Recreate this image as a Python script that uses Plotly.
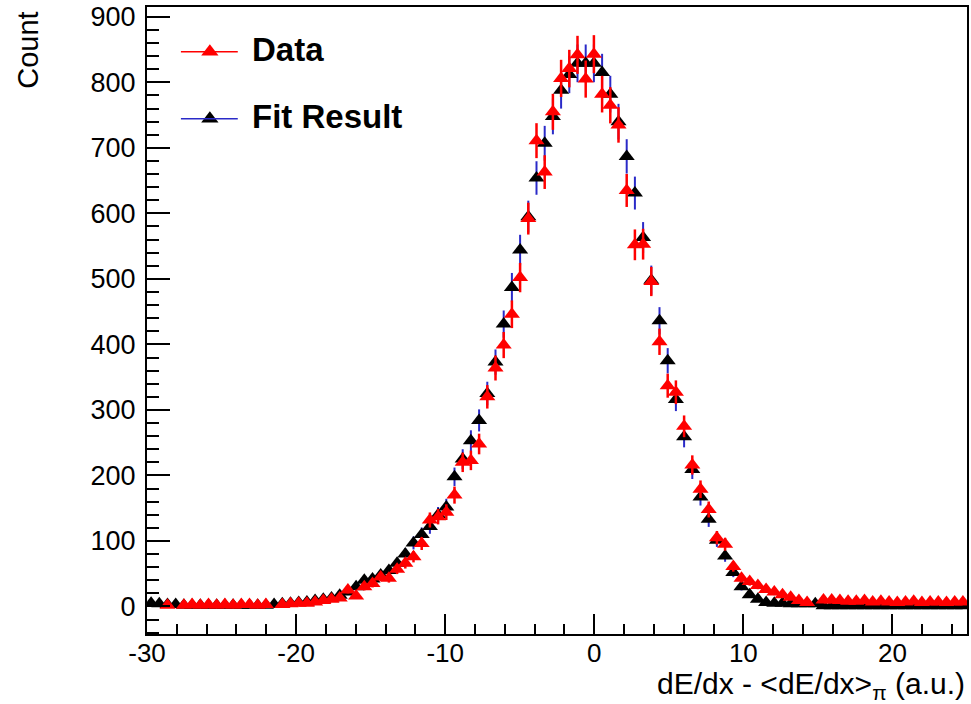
import numpy as np
import plotly.graph_objects as go

# Histogram binning: 100 equal bins over [-30, 25] a.u.
N_BINS = 100
X_LO, X_HI = -30.0, 25.0
bin_width = (X_HI - X_LO) / N_BINS
bin_centers = X_LO + bin_width * (np.arange(N_BINS) + 0.5)

# Measured counts per bin (None = empty bin, not drawn)
data_counts = [
    None, None, 2, None, 2, 3, 2, 3, 2, 3,
    2, 3, 3, 2, 3, None, 3, 4, 5, 5,
    7, 9, 11, 13, 25, 16, 30, 35, 45, 43,
    57, 66, 76, 96, 132, 137, 144, 170, 220, 223,
    248, 320, 364, 399, 446, 502, 592, 711, 663, 755,
    806, 821, 842, 805, 843, 782, 765, 735, 635, 552,
    553, 496, 404, 337, 327, 275, 216, 179, 148, 105,
    95, 61, 43, 38, 32, 26, 22, 18, 14, 9,
    6, None, 10, 10, 9, 8, 8, 9, 7, 8,
    7, 6, 7, 8, 6, 7, 7, 6, 7, 7,
]

# Fitted template counts per bin
fit_counts = [
    5, 4, 3, 3, 2, 2, 2, 2, 2, 2,
    2, 2, 2, 2, 2, 3, 4, 5, 6, 7,
    9, 11, 13, 17, 22, 30, 40, 42, 48, 55,
    66, 80, 97, 110, 122, 140, 152, 198, 225, 253,
    284, 325, 373, 431, 487, 544, 595, 654, 707, 748,
    788, 812, 829, 829, 829, 815, 782, 740, 687, 631,
    563, 498, 436, 375, 316, 259, 209, 167, 133, 101,
    77, 52, 30, 18, 11, 6, 5, 5, 4, 4,
    4, 4, 1, 1, 1, 1, 1, 1, 1, 1,
    1, 1, 1, 1, 1, 1, 1, 1, 1, 1,
]

# Poisson uncertainties
data_err = [np.sqrt(v) if v else None for v in data_counts]
fit_err = [np.sqrt(v) if v else None for v in fit_counts]

X_TICKS = [-30, -20, -10, 0, 10, 20]
X_TICK_LABELS = ["-30", "-20", "-10", "0", "10", "20"]
Y_TICKS = [0, 100, 200, 300, 400, 500, 600, 700, 800, 900]
Y_TICK_LABELS = [str(v) for v in Y_TICKS]

FONT = "Liberation Sans, Arial, sans-serif"
RED = "#ff0000"
BLUE = "#2a2ac8"

fig = go.Figure()

fig.add_trace(go.Scatter(
    x=bin_centers, y=fit_counts, mode="markers", name="Fit Result",
    marker=dict(symbol="triangle-up", size=14, color="black"),
    error_y=dict(type="data", array=fit_err, color=BLUE, thickness=2, width=0),
    showlegend=False,
))
fig.add_trace(go.Scatter(
    x=bin_centers, y=data_counts, mode="markers", name="Data",
    marker=dict(symbol="triangle-up", size=14, color=RED),
    error_y=dict(type="data", array=data_err, color=RED, thickness=2.5, width=0),
    showlegend=False,
))

# Legend box drawn on a pixel-unit overlay (822 x 629 plot area)
legend_entries = [("Data", RED, RED, 584), ("Fit Result", "black", BLUE, 517)]
for label, mcol, lcol, ypix in legend_entries:
    fig.add_shape(type="line", xref="x2", yref="y2", x0=34, x1=91, y0=ypix, y1=ypix,
                  line=dict(color=lcol, width=1.5))
    fig.add_trace(go.Scatter(
        x=[63], y=[ypix], xaxis="x2", yaxis="y2", mode="markers",
        marker=dict(symbol="triangle-up", size=15, color=mcol),
        showlegend=False, hoverinfo="skip",
    ))
    fig.add_annotation(xref="x2", yref="y2", x=103, y=ypix + 2, xanchor="left", yanchor="middle",
                       text=f"<b>{label}</b>", showarrow=False,
                       font=dict(family=FONT, size=33, color="black"))

fig.add_annotation(xref="paper", yref="paper", x=1.0, y=-0.05, xanchor="right", yanchor="top",
                   text="dE/dx - &lt;dE/dx&gt;<sub>π</sub> (a.u.)", showarrow=False,
                   font=dict(family=FONT, size=30, color="black"))
fig.add_annotation(xref="paper", yref="paper", x=-0.145, y=0.995, xanchor="center", yanchor="top",
                   text="Count", textangle=-90, showarrow=False,
                   font=dict(family=FONT, size=29, color="black"))

fig.update_layout(
    width=971, height=704,
    margin=dict(l=147, r=2, t=5, b=70),
    paper_bgcolor="white", plot_bgcolor="white",
    font=dict(family=FONT, color="black"),
    xaxis=dict(
        range=[X_LO, X_HI], tickvals=X_TICKS, ticktext=X_TICK_LABELS,
        ticks="inside", ticklen=20, tickwidth=1.5,
        tickcolor="black", showline=True, linewidth=2, linecolor="black", mirror=True,
        showgrid=False, zeroline=False, tickfont=dict(size=26), ticklabelstandoff=-5,
        ticklabeloverflow="allow",
        minor=dict(tick0=-30, dtick=2, ticks="inside", ticklen=10, tickwidth=1.5, tickcolor="black"),
    ),
    yaxis=dict(
        range=[-42, 915], tickvals=Y_TICKS, ticktext=Y_TICK_LABELS,
        ticks="inside", ticklen=23, tickwidth=1.5,
        tickcolor="black", showline=True, linewidth=2, linecolor="black", mirror=True,
        showgrid=False, zeroline=False, tickfont=dict(size=27), ticklabelstandoff=4,
        ticklabeloverflow="allow",
        minor=dict(tick0=0, dtick=20, ticks="inside", ticklen=12, tickwidth=1.5, tickcolor="black"),
    ),
    xaxis2=dict(overlaying="x", range=[0, 822], visible=False),
    yaxis2=dict(overlaying="y", range=[0, 629], visible=False),
)

fig.write_html("out.html")
